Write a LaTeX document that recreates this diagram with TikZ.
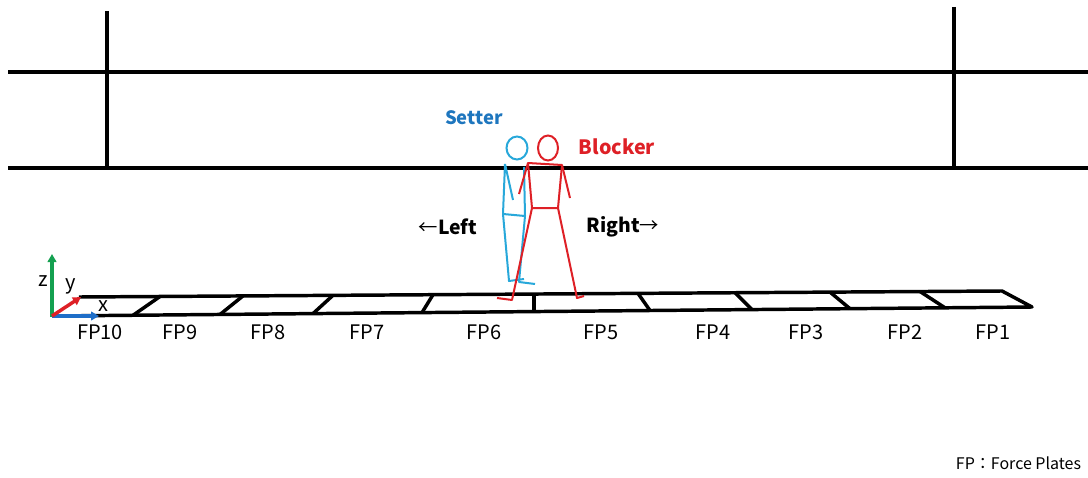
\documentclass[tikz,border=0pt]{standalone}
\usepackage{fontspec}
\setmainfont{Noto Sans CJK JP}
\usetikzlibrary{arrows.meta}

\definecolor{setterblue}{RGB}{40,168,218}
\definecolor{settertext}{RGB}{30,118,190}
\definecolor{blockerred}{RGB}{222,32,38}
\definecolor{axisgreen}{RGB}{20,160,80}
\definecolor{axisblue}{RGB}{30,110,200}

\tikzset{every picture/.style={line width=0.75pt}}

\begin{document}
\begin{tikzpicture}[x=0.75pt,y=0.75pt,yscale=-1,xscale=1]
	\useasboundingbox (0,0) rectangle (1088,478); %set diagram size 1088 x 478

	%Straight Lines (net and antenna)
	\draw [line width=3pt]  (8,72) -- (1088,72) ;
	\draw [line width=3pt]  (8,168) -- (1088,168) ;
	\draw [line width=3pt]  (107,11) -- (107,168) ;
	\draw [line width=3pt]  (954,7) -- (954,168) ;

	%Shape: Force plates
	\draw [line width=2.6pt, line join=round]  (79,297) -- (1002,291) -- (1032,307) -- (52,316) ;
	\draw [line width=2.6pt]  (133,315.3) -- (160,296.5) ;
	\draw [line width=2.6pt]  (220,314.5) -- (243,295.9) ;
	\draw [line width=2.6pt]  (313,313.6) -- (333,295.3) ;
	\draw [line width=2.6pt]  (422,312.6) -- (433,294.7) ;
	\draw [line width=2.6pt]  (534,311.6) -- (534,293.9) ;
	\draw [line width=2.6pt]  (650,310.5) -- (638,293.4) ;
	\draw [line width=2.6pt]  (752,309.6) -- (735,292.7) ;
	\draw [line width=2.6pt]  (850,308.7) -- (830,292.1) ;
	\draw [line width=2.6pt]  (945,307.8) -- (920,291.5) ;

	%Shape: Axis 3D
	\draw [color=axisgreen, line width=2.6pt, -{Triangle[length=6pt,width=6.5pt]}]  (52,317) -- (52,254) ;
	\draw [color=axisblue, line width=2.6pt, -{Triangle[length=6pt,width=6.5pt]}]  (52,316) -- (99,316) ;
	\draw [color=blockerred, line width=2.6pt, -{Triangle[length=6pt,width=6.5pt]}]  (52,316) -- (81,297) ;

	%Stick figure: setter
	\draw [color=setterblue, line width=1.5pt]  (517,148) ellipse (10.5 and 11.5) ;
	\draw [color=setterblue, line width=1.5pt, line join=round]  (505,164) -- (513,200) (505,164) -- (503,214) -- (525,216) -- (524,167) ;
	\draw [color=setterblue, line width=1.5pt, line join=round]  (503,214) -- (509,281) -- (524,279) ;
	\draw [color=setterblue, line width=1.5pt, line join=round]  (525,216) -- (519,282) -- (535,284) ;

	%Stick figure: blocker
	\draw [color=blockerred, line width=1.5pt]  (548,148) ellipse (10 and 12.5) ;
	\draw [color=blockerred, line width=1.5pt, line join=round]  (519,194) -- (528,163) -- (562,165) -- (570,198) ;
	\draw [color=blockerred, line width=1.5pt, line join=round]  (528,163) -- (532,208) -- (558,208) -- (562,165) ;
	\draw [color=blockerred, line width=1.5pt, line join=round]  (532,208) -- (512,300) -- (497,298) ;
	\draw [color=blockerred, line width=1.5pt, line join=round]  (558,208) -- (577,298) -- (584,296) ;

	% Text Node
	\draw (474,118) node (setter) [color=settertext, font=\fontsize{13.8}{16}\selectfont\bfseries]  {Setter};
	% Text Node
	\draw (617,147) node (blocker) [color=blockerred, font=\fontsize{14.8}{16}\selectfont\bfseries]  {Blocker};
	% Text Node
	\draw (448,227) node (left) [font=\fontsize{14.5}{16}\selectfont]  {←\textbf{Left}};
	% Text Node
	\draw (623,227) node (right) [font=\fontsize{14.5}{16}\selectfont]  {\textbf{Right}→};
	% Text Node
	\draw (43,281) node (zlab) [font=\fontsize{15}{16}\selectfont]  {z};
	% Text Node
	\draw (71,286) node (ylab) [font=\fontsize{15}{16}\selectfont]  {y};
	% Text Node
	\draw (103,306) node (xlab) [font=\fontsize{15}{16}\selectfont]  {x};
	% Text Node
	\draw (100,332) node (fp10) [font=\fontsize{15}{16}\selectfont]  {FP10};
	% Text Node
	\draw (180,332) node (fp9) [font=\fontsize{15}{16}\selectfont]  {FP9};
	% Text Node
	\draw (268,332) node (fp8) [font=\fontsize{15}{16}\selectfont]  {FP8};
	% Text Node
	\draw (367,332) node (fp7) [font=\fontsize{15}{16}\selectfont]  {FP7};
	% Text Node
	\draw (484,332) node (fp6) [font=\fontsize{15}{16}\selectfont]  {FP6};
	% Text Node
	\draw (601,332) node (fp5) [font=\fontsize{15}{16}\selectfont]  {FP5};
	% Text Node
	\draw (713,332) node (fp4) [font=\fontsize{15}{16}\selectfont]  {FP4};
	% Text Node
	\draw (806,332) node (fp3) [font=\fontsize{15}{16}\selectfont]  {FP3};
	% Text Node
	\draw (905,332) node (fp2) [font=\fontsize{15}{16}\selectfont]  {FP2};
	% Text Node
	\draw (993,332) node (fp1) [font=\fontsize{15}{16}\selectfont]  {FP1};
	% Text Node
	\draw (1086,463) node (legend) [anchor=east, font=\fontsize{12}{16}\selectfont]  {FP：Force Plates};

\end{tikzpicture}
\end{document}
